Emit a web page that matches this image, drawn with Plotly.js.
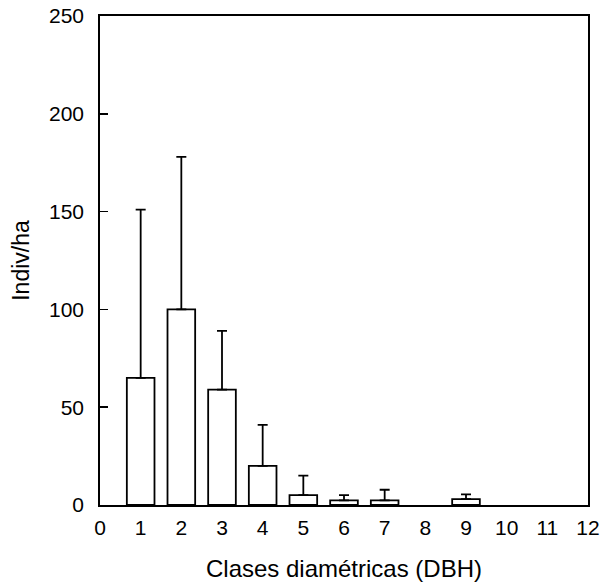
<!DOCTYPE html>
<html>
<head>
<meta charset="utf-8">
<script src="https://cdn.plot.ly/plotly-3.0.1.min.js"></script>
<style>html,body{margin:0;padding:0;background:#fff;}#chart{width:603px;height:586px;}</style>
</head>
<body>
<div id="chart"></div>
<script>
const classes = [1, 2, 3, 4, 5, 6, 7, 8, 9];
const indivHa = [65, 100, 59, 20, 5, 2.4, 2.4, null, 3];
const errUpper = [86, 78, 30, 21, 10, 2.6, 5.4, null, 2.4];
const xTicks = [0, 1, 2, 3, 4, 5, 6, 7, 8, 9, 10, 11, 12];
const yTicks = [0, 50, 100, 150, 200, 250];

const trace = {
  type: 'bar',
  x: classes,
  y: indivHa,
  width: 0.68,
  marker: {color: '#ffffff', line: {color: '#000000', width: 1.8}},
  error_y: {
    type: 'data',
    symmetric: false,
    array: errUpper,
    arrayminus: errUpper.map(() => 0),
    color: '#000000',
    thickness: 1.8,
    width: 5
  },
  hoverinfo: 'none'
};

const fam = 'Liberation Sans, Arial, sans-serif';

const layout = {
  width: 603,
  height: 586,
  margin: {l: 100, r: 15, t: 16, b: 81},
  paper_bgcolor: '#ffffff',
  plot_bgcolor: '#ffffff',
  showlegend: false,
  font: {family: fam, color: '#000000'},
  xaxis: {
    range: [0, 12],
    tickvals: xTicks,
    ticktext: xTicks.map(String),
    ticks: '',
    ticklabelstandoff: 3,
    showgrid: false,
    zeroline: false,
    showline: true,
    linecolor: '#000000',
    linewidth: 1.8,
    mirror: true,
    automargin: false,
    tickfont: {family: fam, size: 21, color: '#000000'},
    title: {text: 'Clases diamétricas (DBH)', font: {family: fam, size: 24, color: '#000000'}, standoff: 22}
  },
  yaxis: {
    range: [0, 250],
    tickvals: yTicks,
    ticktext: yTicks.map(String),
    ticks: 'inside',
    ticklen: 8,
    tickwidth: 1.6,
    tickcolor: '#000000',
    ticklabelstandoff: 10,
    showgrid: false,
    zeroline: false,
    showline: true,
    linecolor: '#000000',
    linewidth: 1.8,
    mirror: true,
    automargin: false,
    tickfont: {family: fam, size: 21, color: '#000000'},
    title: {text: 'Indiv/ha', font: {family: fam, size: 23, color: '#000000'}, standoff: 13}
  }
};

Plotly.newPlot('chart', [trace], layout, {displayModeBar: false, staticPlot: true});
</script>
</body>
</html>
